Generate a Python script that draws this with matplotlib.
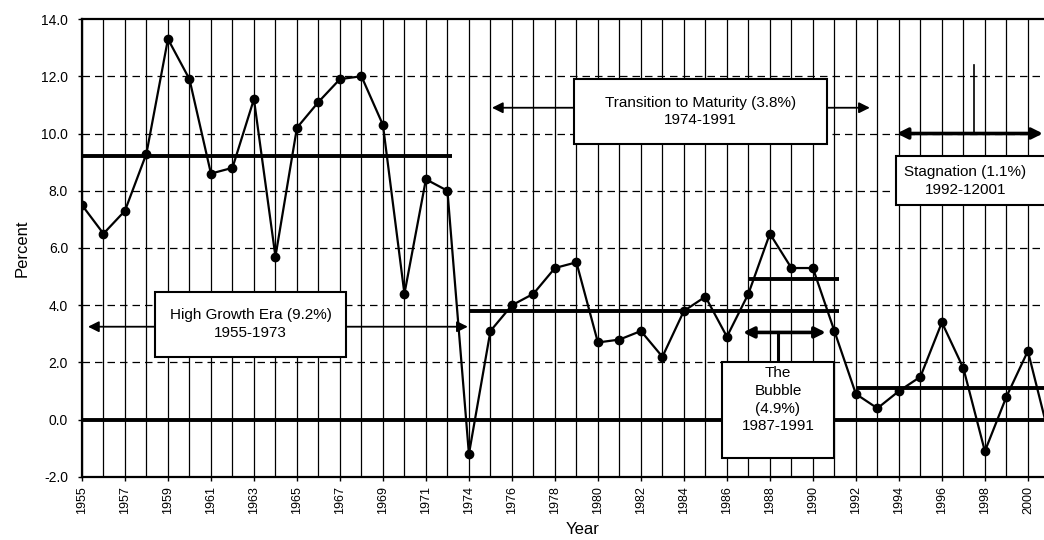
import matplotlib.pyplot as plt
from matplotlib.patches import Rectangle

plt.rcParams['font.family'] = ['Liberation Sans', 'DejaVu Sans']

# real GDP growth, percent (1973 not in the series)
years = list(range(1955, 1973)) + list(range(1974, 2002))
growth = [7.5, 6.5, 7.3, 9.3, 13.3, 11.9, 8.6, 8.8, 11.2, 5.7,
          10.2, 11.1, 11.9, 12.0, 10.3, 4.4, 8.4, 8.0,
          -1.2, 3.1, 4.0, 4.4, 5.3, 5.5, 2.7, 2.8, 3.1, 2.2,
          3.8, 4.3, 2.9, 4.4, 6.5, 5.3, 5.3, 3.1, 0.9, 0.4,
          1.0, 1.5, 3.4, 1.8, -1.1, 0.8, 2.4, -0.6]

# period averages: (first year, last year, mean)
era_means = [(1955, 1972, 9.2), (1974, 1991, 3.8), (1987, 1991, 4.9), (1992, 2001, 1.1)]

x = list(range(len(years)))
idx = {y: i for i, y in enumerate(years)}

fig = plt.figure(figsize=(10.44, 5.4), dpi=100)
ax = fig.add_axes([0.0785, 0.1167, 0.9215, 0.8481])

ax.set_xlim(0, 44.75)
ax.set_ylim(-2, 14)

# grid: solid verticals every year, dashed horizontals
for i in x:
    ax.axvline(i, color='black', lw=0.9, zorder=1)
for v in range(2, 14, 2):
    ax.axhline(v, color='black', lw=0.9, ls=(0, (6, 4)), zorder=1)
ax.axhline(0, color='black', lw=2.8, zorder=2)

for y0, y1, m in era_means:
    ax.plot([idx[y0], idx[y1] + 0.2 if y1 < 2001 else 46], [m, m],
            color='black', lw=2.8, zorder=2, solid_capstyle='butt')

ax.plot(x, growth, color='black', lw=1.6, marker='o', markersize=6, zorder=4)

for s in ['left', 'bottom', 'top']:
    ax.spines[s].set_linewidth(1.6)
ax.spines['right'].set_visible(False)

ax.set_xticks(x[::2])
ax.set_xticklabels([str(y) for y in years[::2]], rotation=90, fontsize=9)
ax.set_yticks(range(-2, 16, 2))
ax.set_yticklabels(['%.1f' % v for v in range(-2, 16, 2)], fontsize=10)
ax.tick_params(length=3, width=1)
ax.tick_params(axis='y', pad=7)
ax.set_xlabel('Year', fontsize=12, x=0.52, labelpad=6)
ax.set_ylabel('Percent', fontsize=12, labelpad=8)

arrow = dict(arrowstyle='-|>', color='black', lw=1.3, mutation_scale=16, shrinkA=0, shrinkB=0)
darrow = dict(arrowstyle='<|-|>', color='black', lw=2.6, mutation_scale=16, shrinkA=0, shrinkB=0)


def box(x0, x1, y0, y1, text, tx=None, ty=None):
    ax.add_patch(Rectangle((x0, y0), x1 - x0, y1 - y0, facecolor='white',
                           edgecolor='black', lw=1.5, zorder=6, clip_on=False))
    tx = (x0 + x1) / 2 if tx is None else tx
    ty = (y0 + y1) / 2 if ty is None else ty
    ax.text(tx, ty, text, ha='center', va='center',
            fontsize=11, zorder=7, linespacing=1.35)


# High growth era
ax.annotate('', xy=(0.28, 3.25), xytext=(3.4, 3.25), arrowprops=arrow, zorder=5)
ax.annotate('', xy=(17.95, 3.25), xytext=(12.3, 3.25), arrowprops=arrow, zorder=5)
box(3.4, 12.3, 2.2, 4.48, 'High Growth Era (9.2%)\n1955-1973')

# Transition to maturity
ax.annotate('', xy=(19.07, 10.9), xytext=(22.9, 10.9), arrowprops=arrow, zorder=5)
ax.annotate('', xy=(36.65, 10.9), xytext=(34.65, 10.9), arrowprops=arrow, zorder=5)
box(22.9, 34.65, 9.65, 11.89, 'Transition to Maturity (3.8%)\n1974-1991')

# Stagnation
ax.annotate('', xy=(44.7, 10.0), xytext=(37.9, 10.0), arrowprops=darrow, zorder=5)
ax.plot([41.5, 41.5], [10.0, 12.4], color='black', lw=1.2, zorder=5)
box(37.85, 46, 7.5, 9.2, 'Stagnation (1.1%)\n1992-12001', tx=41.1)

# Bubble
ax.annotate('', xy=(34.6, 3.05), xytext=(30.75, 3.05), arrowprops=darrow, zorder=5)
ax.plot([32.4, 32.4], [3.05, 2.0], color='black', lw=2.2, zorder=5)
box(29.77, 34.98, -1.33, 2.0, 'The\nBubble\n(4.9%)\n1987-1991', ty=0.7)

fig.savefig('out.png', dpi=100)
